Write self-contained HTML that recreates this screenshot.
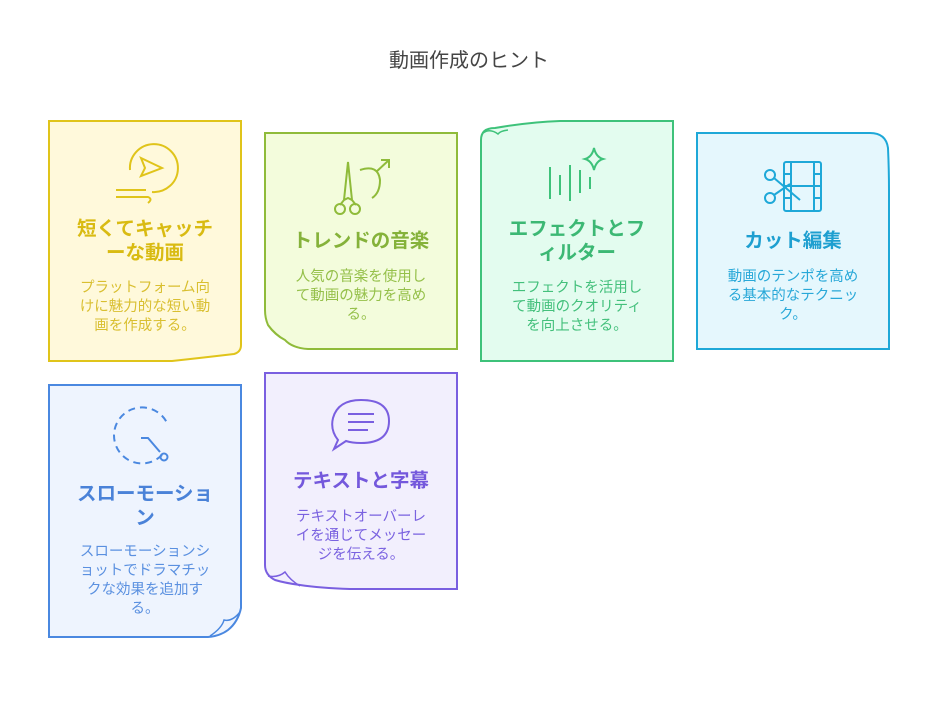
<!DOCTYPE html>
<html><head><meta charset="utf-8"><style>
body{margin:0;background:#fff;}
svg text{font-family:"Liberation Sans","Noto Sans CJK JP",sans-serif;text-anchor:middle;}
.h{font-size:19.5px;font-weight:bold;}
.b{font-size:14.5px;}
</style></head><body>
<svg width="938" height="710" viewBox="0 0 938 710" xmlns="http://www.w3.org/2000/svg">
<text x="469" y="67" style="font-size:20px" fill="#444">動画作成のヒント</text>

<!-- card1 -->
<path d="M49,121 H241 V345 Q241,352 234,354 Q200,358 172,361 H49 Z" fill="#fff9db" stroke="#e0c41a" stroke-width="2"/>
<g fill="none" stroke="#e0c41a" stroke-width="2">
<path d="M130,170 A24,24 0 1 1 152,192"/><path d="M141,158 L162,168 L141,176 L145,168 Z"/>
<path d="M116,190 H146 M116,197 H148 Q153,199 148,203"/>
</g>
<g fill="#d9bb12"><text class="h" x="145" y="235">短くてキャッチ</text><text class="h" x="145" y="259">ーな動画</text></g>
<g fill="#d9bf30"><text class="b" x="145" y="292">プラットフォーム向</text><text class="b" x="145" y="311">けに魅力的な短い動</text><text class="b" x="145" y="330">画を作成する。</text></g>

<!-- card2 -->
<path d="M265,133 H457 V349 H308 Q292,348 285,340 Q275,335 268,325 Q265,318 265,310 Z" fill="#f3fcdc" stroke="#8fbb3a" stroke-width="2"/>
<path d="M268,325 Q276,335 285,340 Q290,345 300,348" fill="none" stroke="#8fbb3a" stroke-width="1.5"/>
<g fill="none" stroke="#8fbb3a" stroke-width="2">
<path d="M348,162 L344,200 L348,198 L352,200 Z M344,200 L340,205 M352,200 L356,205"/>
<circle cx="340" cy="209" r="5"/><circle cx="355" cy="209" r="5"/>
<path d="M360,170 Q378,164 380,180 Q380,193 372,198"/><path d="M376,172 L389,160 M381,160 H389 V168"/>
</g>
<text class="h" x="361" y="247" fill="#85b23a">トレンドの音楽</text>
<g fill="#95c04a"><text class="b" x="361" y="281">人気の音楽を使用し</text><text class="b" x="361" y="300">て動画の魅力を高め</text><text class="b" x="361" y="319">る。</text></g>

<!-- card3 -->
<path d="M481,140 Q481,128 495,128 Q530,122 560,121 H673 V361 H481 Z" fill="#e3fcef" stroke="#3ec27a" stroke-width="2"/>
<path d="M483,133 Q490,128 498,134 Q500,131 508,130" fill="none" stroke="#3ec27a" stroke-width="1.5"/>
<g fill="none" stroke="#3ec27a" stroke-width="2">
<path d="M550,167 V199 M560,175 V195 M570,165 V201 M580,170 V193 M590,177 V189"/>
<path d="M594,148 Q596,157 603,159 Q596,161 594,170 Q592,161 585,159 Q592,157 594,148 Z"/>
</g>
<g fill="#3cb874"><text class="h" x="577" y="235">エフェクトとフ</text><text class="h" x="577" y="259">ィルター</text></g>
<g fill="#44c07c"><text class="b" x="577" y="292">エフェクトを活用し</text><text class="b" x="577" y="311">て動画のクオリティ</text><text class="b" x="577" y="330">を向上させる。</text></g>

<!-- card4 -->
<path d="M697,133 H870 Q886,133 888,148 Q889,170 889,190 V349 H697 Z" fill="#e5f7fd" stroke="#1ea8d8" stroke-width="2"/>
<g fill="none" stroke="#1ea8d8" stroke-width="2">
<rect x="784" y="162" width="37" height="49" rx="2"/><path d="M791,162 V211 M814,162 V211 M784,174 H791 M784,186 H791 M784,198 H791 M814,174 H821 M814,186 H821 M814,198 H821 M791,186 H814"/>
<circle cx="770" cy="175" r="5"/><circle cx="770" cy="198" r="5"/><path d="M774,178 L800,200 M774,195 L790,184"/>
</g>
<text class="h" x="793" y="247" fill="#1e9fd0">カット編集</text>
<g fill="#28a8d8"><text class="b" x="793" y="281">動画のテンポを高め</text><text class="b" x="793" y="300">る基本的なテクニッ</text><text class="b" x="793" y="319">ク。</text></g>

<!-- card5 -->
<path d="M49,385 H241 V608 Q238,622 228,630 Q220,636 208,637 H49 Z" fill="#eef4fe" stroke="#4a88e0" stroke-width="2"/>
<path d="M210,636 Q222,628 224,620 Q232,622 240,612" fill="none" stroke="#4a88e0" stroke-width="1.5"/>
<g fill="none" stroke="#4a88e0" stroke-width="2">
<path d="M162,455 A28,28 0 1 1 168,425" stroke-dasharray="7,5"/>
<path d="M141,438 H148 L160,452"/><circle cx="164" cy="457" r="3.5"/>
</g>
<g fill="#4a82d8"><text class="h" x="145" y="500">スローモーショ</text><text class="h" x="145" y="524">ン</text></g>
<g fill="#5a90e0"><text class="b" x="145" y="556">スローモーションシ</text><text class="b" x="145" y="575">ョットでドラマチッ</text><text class="b" x="145" y="594">クな効果を追加す</text><text class="b" x="145" y="613">る。</text></g>

<!-- card6 -->
<path d="M265,373 H457 V589 H350 Q320,588 300,585 Q285,583 275,580 Q265,575 265,565 Z" fill="#f2effd" stroke="#7a5fe0" stroke-width="2"/>
<path d="M268,576 Q278,578 285,572 Q290,580 300,586" fill="none" stroke="#7a5fe0" stroke-width="1.5"/>
<g fill="none" stroke="#7a5fe0" stroke-width="2">
<path d="M338,440 Q330,430 333,418 Q338,400 361,400 Q389,400 389,421 Q389,443 361,443 Q352,443 346,441 L334,449 Z"/>
<path d="M348,414 H374 M348,422 H374 M348,430 H368"/>
</g>
<text class="h" x="361" y="487" fill="#7458dc">テキストと字幕</text>
<g fill="#7a62e0"><text class="b" x="361" y="521">テキストオーバーレ</text><text class="b" x="361" y="540">イを通じてメッセー</text><text class="b" x="361" y="559">ジを伝える。</text></g>
</svg>
</body></html>
